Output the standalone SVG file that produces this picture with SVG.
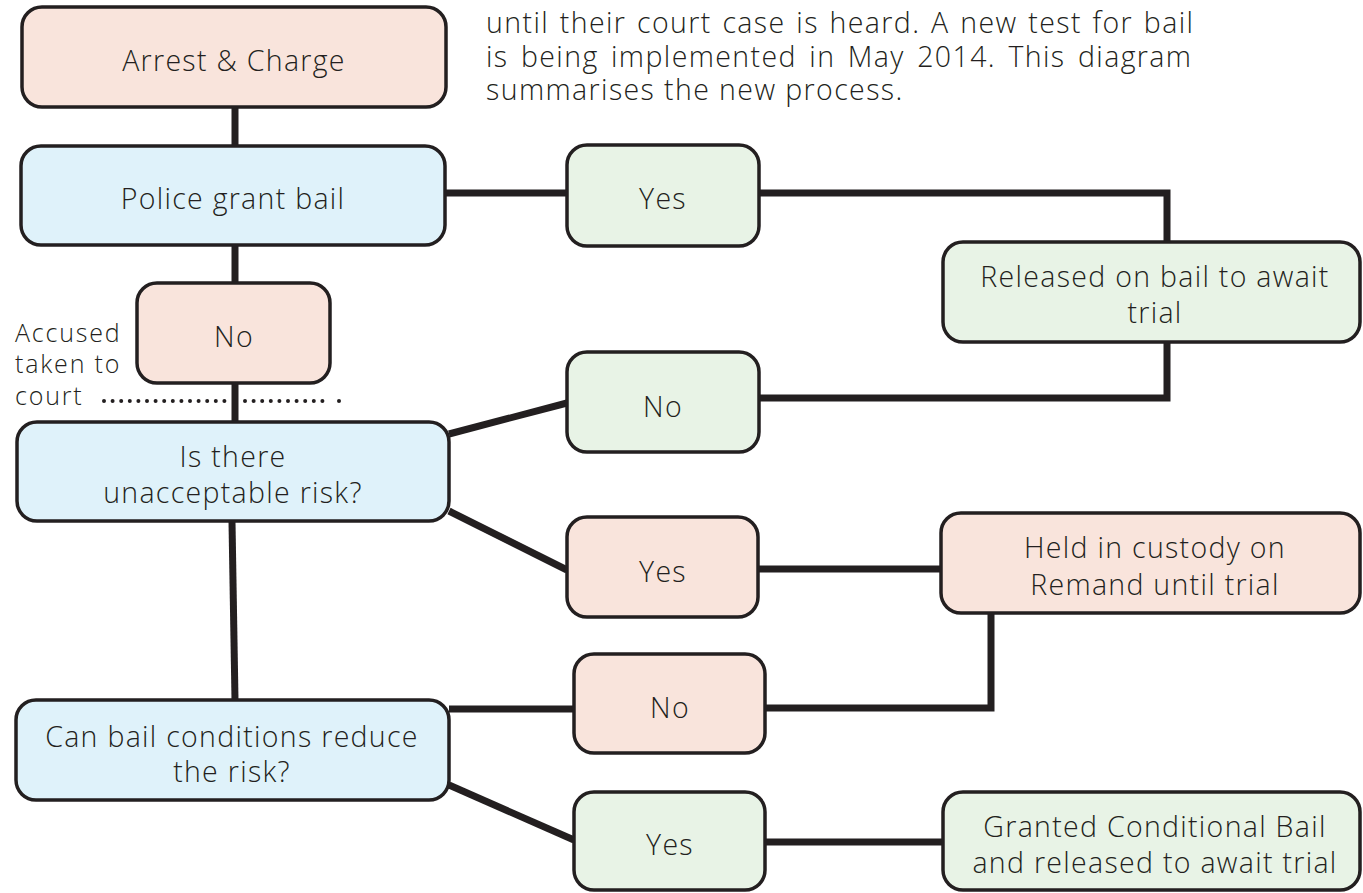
<svg xmlns="http://www.w3.org/2000/svg" width="1363" height="893" viewBox="0 0 1363 893">
<style>
.box{stroke:#231f20;stroke-width:3.5}
.pink{fill:#f9e4dc}
.blue{fill:#dff2fa}
.green{fill:#e8f3e6}
.t{font-family:"Open Sans",Lato,"Liberation Sans",sans-serif;font-weight:300;font-size:28.5px;letter-spacing:1.3px;fill:#231f20;text-anchor:middle}
.p{font-family:"Open Sans",Lato,"Liberation Sans",sans-serif;font-weight:300;font-size:28.5px;letter-spacing:1.4px;fill:#231f20}
.s{font-family:"Open Sans",Lato,"Liberation Sans",sans-serif;font-weight:300;font-size:25px;letter-spacing:1.8px;fill:#231f20}
.c{fill:none;stroke:#231f20;stroke-width:7;stroke-linejoin:miter}
</style>
<rect width="1363" height="893" fill="#ffffff"/>
<g id="intro">
<text class="p" x="486" y="33" word-spacing="1.9">until their court case is heard. A new test for bail</text>
<text class="p" x="486" y="67" word-spacing="3.6">is being implemented in May 2014. This diagram</text>
<text class="p" x="486" y="100">summarises the new process.</text>
</g>
<g id="connectors">
<line class="c" x1="235" y1="107" x2="235" y2="146"/>
<line class="c" x1="235" y1="245" x2="235" y2="283"/>
<line class="c" x1="235" y1="383" x2="235" y2="422"/>
<line class="c" x1="446" y1="193" x2="567" y2="193"/>
<polyline class="c" points="759,193 1167,193 1167,242"/>
<polyline class="c" points="1167,342 1167,398 759,398"/>
<line class="c" x1="449" y1="434" x2="567" y2="403"/>
<line class="c" x1="449" y1="511" x2="567" y2="570"/>
<line class="c" x1="758" y1="569" x2="941" y2="569"/>
<polyline class="c" points="991,613 991,708 765,708"/>
<line class="c" x1="232" y1="522" x2="235" y2="700"/>
<line class="c" x1="449" y1="709" x2="574" y2="709"/>
<line class="c" x1="449" y1="785" x2="574" y2="840"/>
<line class="c" x1="765" y1="842" x2="943" y2="842"/>
<line x1="104" y1="401" x2="228" y2="401" stroke="#231f20" stroke-width="4" stroke-linecap="round" stroke-dasharray="0 8.6"/>
<line x1="245" y1="401" x2="324" y2="401" stroke="#231f20" stroke-width="4" stroke-linecap="round" stroke-dasharray="0 8.6"/>
<circle cx="339" cy="401" r="2" fill="#231f20"/>
</g>
<g id="arrest">
<rect class="box pink" x="22" y="7" width="424" height="100" rx="20"/>
<text class="t" x="234" y="71">Arrest &amp; Charge</text>
</g>
<g id="police">
<rect class="box blue" x="21" y="146" width="424" height="99" rx="20"/>
<text class="t" x="233" y="209">Police grant bail</text>
</g>
<g id="no1">
<rect class="box pink" x="137" y="283" width="193" height="100" rx="20"/>
<text class="t" x="234" y="347">No</text>
</g>
<g id="accused">
<text class="s" x="15" y="342">Accused</text>
<text class="s" x="15" y="373">taken to</text>
<text class="s" x="15" y="405">court</text>
</g>
<g id="risk">
<rect class="box blue" x="17" y="422" width="432" height="99" rx="20"/>
<text class="t" x="233" y="467">Is there</text>
<text class="t" x="233" y="503">unacceptable risk?</text>
</g>
<g id="yes1">
<rect class="box green" x="567" y="145" width="192" height="101" rx="20"/>
<text class="t" x="663" y="209">Yes</text>
</g>
<g id="released">
<rect class="box green" x="943" y="242" width="417" height="100" rx="20"/>
<text class="t" x="1155" y="287">Released on bail to await</text>
<text class="t" x="1155" y="323">trial</text>
</g>
<g id="no2">
<rect class="box green" x="567" y="352" width="192" height="100" rx="20"/>
<text class="t" x="663" y="417">No</text>
</g>
<g id="yes2">
<rect class="box pink" x="567" y="517" width="191" height="100" rx="20"/>
<text class="t" x="663" y="582">Yes</text>
</g>
<g id="held">
<rect class="box pink" x="941" y="513" width="419" height="100" rx="20"/>
<text class="t" x="1155" y="558">Held in custody on</text>
<text class="t" x="1155" y="595">Remand until trial</text>
</g>
<g id="no3">
<rect class="box pink" x="574" y="654" width="191" height="99" rx="20"/>
<text class="t" x="670" y="718">No</text>
</g>
<g id="conditions">
<rect class="box blue" x="16" y="700" width="433" height="100" rx="20"/>
<text class="t" x="232" y="747">Can bail conditions reduce</text>
<text class="t" x="232" y="782">the risk?</text>
</g>
<g id="yes3">
<rect class="box green" x="574" y="792" width="191" height="98" rx="20"/>
<text class="t" x="670" y="855">Yes</text>
</g>
<g id="granted">
<rect class="box green" x="943" y="792" width="417" height="98" rx="20"/>
<text class="t" x="1155" y="837">Granted Conditional Bail</text>
<text class="t" x="1155" y="873">and released to await trial</text>
</g>
</svg>
